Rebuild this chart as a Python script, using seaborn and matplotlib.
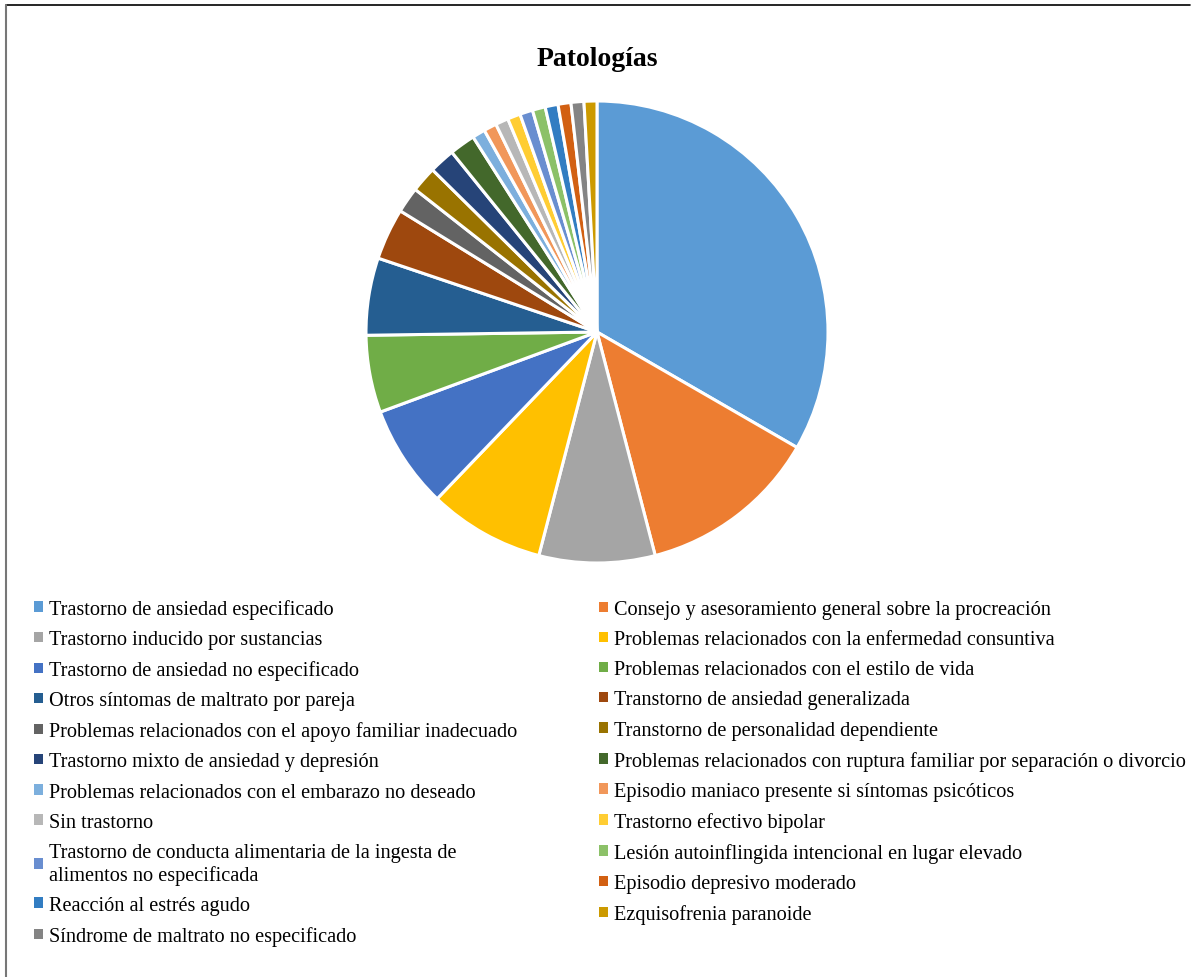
import matplotlib
matplotlib.use("Agg")
import matplotlib.pyplot as plt
from matplotlib.patches import Patch
from matplotlib.lines import Line2D
import seaborn as sns

categories = [
    "Trastorno de ansiedad especificado",
    "Consejo y asesoramiento general sobre la procreación",
    "Trastorno inducido por sustancias",
    "Problemas relacionados con la enfermedad consuntiva",
    "Trastorno de ansiedad no especificado",
    "Problemas relacionados con el estilo de vida",
    "Otros síntomas de maltrato por pareja",
    "Transtorno de ansiedad generalizada",
    "Problemas relacionados con el apoyo familiar inadecuado",
    "Transtorno de personalidad dependiente",
    "Trastorno mixto de ansiedad y depresión",
    "Problemas relacionados con ruptura familiar por separación o divorcio",
    "Problemas relacionados con el embarazo no deseado",
    "Episodio maniaco presente si síntomas psicóticos",
    "Sin trastorno",
    "Trastorno efectivo bipolar",
    "Trastorno de conducta alimentaria de la ingesta de\nalimentos no especificada",
    "Lesión autoinflingida intencional en lugar elevado",
    "Reacción al estrés agudo",
    "Episodio depresivo moderado",
    "Síndrome de maltrato no especificado",
    "Ezquisofrenia paranoide",
]
counts = [37, 14, 9, 9, 8, 6, 6, 4, 2, 2, 2, 2, 1, 1, 1, 1, 1, 1, 1, 1, 1, 1]
colors = [
    "#5B9BD5", "#ED7D31", "#A5A5A5", "#FFC000", "#4472C4", "#70AD47",
    "#255E91", "#9E480E", "#636363", "#997300", "#264478", "#43682B",
    "#7CAFDD", "#F1975A", "#B7B7B7", "#FFCD33", "#698ED0", "#8CC168",
    "#327DC2", "#D26012", "#848484", "#CC9A00",
]
title = "Patologías"

sns.set_theme(style="white")
plt.rcParams["font.family"] = ["Liberation Serif", "DejaVu Serif"]
plt.rcParams["text.color"] = "black"

W, H = 1198, 978
fig = plt.figure(figsize=(W / 100, H / 100), dpi=100)
fig.patch.set_facecolor("white")

cx, cy, r = 597, 333, 231
ax = fig.add_axes([(cx - r) / W, (H - cy - r) / H, 2 * r / W, 2 * r / H])
wedges, _ = ax.pie(counts, colors=colors, startangle=90, counterclock=False,
                   radius=1.0,
                   wedgeprops=dict(edgecolor="white", linewidth=2.2))
ax.set_xlim(-1.0, 1.0)
ax.set_ylim(-1.0, 1.0)
ax.set_aspect("equal")
ax.axis("off")

fig.text(597 / W, 1 - 60 / H, title, ha="center", va="center",
         fontsize=20, fontweight="bold", color="black")

handles = [Patch(facecolor=c, edgecolor="none") for c in colors]
left_idx = list(range(0, len(categories), 2))
right_idx = list(range(1, len(categories), 2))

common = dict(frameon=False, fontsize=14.6, handlelength=0.42,
              handleheight=0.42, handletextpad=0.3, labelspacing=0.55,
              borderaxespad=0, borderpad=0, loc="upper left",
              labelcolor="black")
leg1 = fig.legend([handles[i] for i in left_idx],
                  [categories[i] for i in left_idx],
                  bbox_to_anchor=(34 / W, 1 - 600 / H), **common)
leg2 = fig.legend([handles[i] for i in right_idx],
                  [categories[i] for i in right_idx],
                  bbox_to_anchor=(599 / W, 1 - 601 / H), **common)

# chart frame lines (top and left)
fig.add_artist(Line2D([6 / W, 1190 / W], [1 - 6 / H, 1 - 6 / H],
                      transform=fig.transFigure, color="black", lw=1.2))
fig.add_artist(Line2D([6 / W, 6 / W], [0, 1 - 6 / H],
                      transform=fig.transFigure, color="#777777", lw=1.5))

fig.savefig("out.png", dpi=100, facecolor="white")
